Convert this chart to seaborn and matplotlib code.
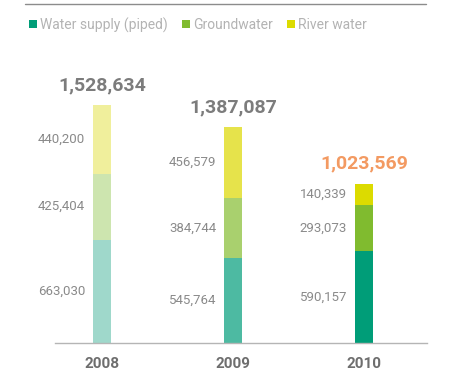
import matplotlib
matplotlib.use("Agg")
import matplotlib.pyplot as plt
import seaborn as sns
import pandas as pd
from matplotlib.lines import Line2D

years = ["2008", "2009", "2010"]
piped = [663030, 545764, 590157]
ground = [425404, 384744, 293073]
river = [440200, 456579, 140339]
totals = [1528634, 1387087, 1023569]
series_names = ["Water supply (piped)", "Groundwater", "River water"]

piped_colors = ["#9fd8cb", "#4dbaa2", "#009d78"]
ground_colors = ["#cde5af", "#a9d06e", "#80bb2f"]
river_colors = ["#f0ef9c", "#e6e34b", "#dcdb00"]
legend_colors = ["#009d78", "#80bb2f", "#dcdb00"]
total_colors = ["#7c7c7c", "#7c7c7c", "#f39a62"]

sns.set_theme(style="white")
plt.rcParams["font.family"] = ["Roboto", "DejaVu Sans"]

df = pd.DataFrame({"year": years, "piped": piped, "ground": ground, "river": river})
df["cum2"] = df["piped"] + df["ground"]
df["cum3"] = df["cum2"] + df["river"]

W, H = 457, 373
fig = plt.figure(figsize=(W / 100, H / 100), dpi=100)
ax = fig.add_axes([55 / W, 30 / H, 372 / W, 290 / H])

bw = 0.14
# stacked by overlaying cumulative heights, tallest first
for col, pal in [("cum3", river_colors), ("cum2", ground_colors), ("piped", piped_colors)]:
    sns.barplot(data=df, x="year", y=col, hue="year", palette=pal,
                width=bw, legend=False, ax=ax, linewidth=0, saturation=1)

scale = 1528634 / 238.0
ax.set_ylim(0, 290 * scale)
ax.set_xlim(-0.36, 2.48)

for s in ["top", "right", "left"]:
    ax.spines[s].set_visible(False)
ax.spines["bottom"].set_color("#b5b5b5")
ax.spines["bottom"].set_linewidth(1.0)
ax.set_yticks([])
ax.set_xlabel("")
ax.set_ylabel("")
ax.tick_params(axis="x", length=0, pad=10)
for lbl in ax.get_xticklabels():
    lbl.set_fontsize(11)
    lbl.set_fontweight("bold")
    lbl.set_color("#6e6e6e")

offset_x = bw / 2 + 0.06
for i in range(3):
    segs = [(0, piped[i]), (piped[i], ground[i]), (piped[i] + ground[i], river[i])]
    for base, val in segs:
        ax.text(i - offset_x, base + val / 2, f"{val:,}", ha="right", va="center",
                fontsize=9.5, color="#8a8a8a")
    ax.text(i, totals[i] + 20 * scale, f"{totals[i]:,}", ha="center", va="center",
            fontsize=14, fontweight="bold", color=total_colors[i])

# top rule
fig.add_artist(Line2D([25 / W, 426 / W], [1 - 3.5 / H, 1 - 3.5 / H], color="#8c8c8c", lw=1.0))

handles = [Line2D([0], [0], marker="s", linestyle="none", markersize=6,
                  markerfacecolor=c, markeredgewidth=0) for c in legend_colors]
fig.legend(handles, series_names, loc="center left", bbox_to_anchor=(22 / W, 1 - 25 / H),
           ncol=3, frameon=False, fontsize=10, handletextpad=0.1, columnspacing=0.9,
           labelcolor="#b3b3b3", handlelength=0.8, borderaxespad=0)

fig.savefig("out.png", dpi=100)
